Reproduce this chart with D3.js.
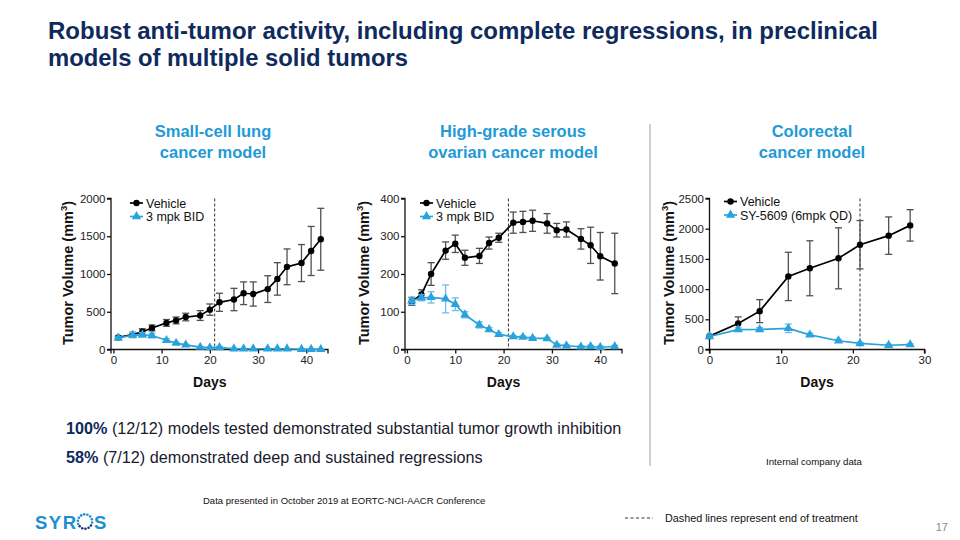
<!DOCTYPE html>
<html>
<head>
<meta charset="utf-8">
<script src="https://cdn.jsdelivr.net/npm/d3@7"></script>
<style>
  html, body { margin: 0; padding: 0; background: #fff; }
  svg { display: block; font-family: "Liberation Sans", Arial, sans-serif; }
</style>
</head>
<body>
<svg id="slide" width="960" height="540"></svg>
<script>
// ---------------- DATA ----------------
const titleLines = ["Robust anti-tumor activity, including complete regressions, in preclinical", "models of multiple solid tumors"];
const chartTitles = [["Small-cell lung", "cancer model"], ["High-grade serous", "ovarian cancer model"], ["Colorectal", "cancer model"]];
const seriesNames = [["Vehicle", "3 mpk BID"], ["Vehicle", "3 mpk BID"], ["Vehicle", "SY-5609 (6mpk QD)"]];

// Small-cell lung cancer model
const sclcDays = [1, 4, 6, 8, 11, 13, 15, 18, 20, 22, 25, 27, 29, 32, 34, 36, 39, 41, 43];
const sclcVehicle = [160, 197, 235, 285, 352, 385, 430, 450, 528, 625, 662, 745, 735, 800, 935, 1095, 1145, 1305, 1460];
const sclcVehicleErr = [15, 30, 40, 40, 45, 45, 50, 65, 75, 120, 148, 150, 160, 177, 215, 237, 245, 325, 410];
const sclcTreated = [152, 190, 195, 185, 122, 84, 62, 32, 26, 27, 10, 10, 10, 10, 10, 10, 3, 3, 2];
const sclcTreatedErr = [15, 35, 30, 28, 20, 10, 8, 6, 5, 15, 3, 3, 3, 3, 3, 3, 2, 2, 2];
const sclcYTicks = [0, 500, 1000, 1500, 2000];
const sclcXTicks = [0, 10, 20, 30, 40];

// High-grade serous ovarian cancer model
const hgscDays = [1, 3, 5, 8, 10, 12, 15, 17, 19, 22, 24, 26, 29, 31, 33, 36, 38, 40, 43];
const hgscVehicle = [127, 146, 200, 262, 280, 243, 248, 282, 296, 336, 338, 341, 334, 316, 318, 293, 276, 247, 228];
const hgscVehicleErr = [10, 12, 30, 23, 23, 20, 20, 16, 12, 28, 28, 28, 26, 18, 20, 27, 48, 63, 80];
const hgscTreated = [129, 137, 138, 134, 120, 92, 65, 53, 40, 34, 33, 30, 29, 12, 10, 7, 8, 6, 8];
const hgscTreatedErr = [10, 8, 15, 37, 17, 8, 8, 5, 4, 3, 3, 3, 3, 3, 3, 3, 3, 3, 3];
const hgscYTicks = [0, 100, 200, 300, 400];
const hgscXTicks = [0, 10, 20, 30, 40];

// Colorectal cancer model
const crcDays = [0, 4, 7, 11, 14, 18, 21, 25, 28];
const crcVehicle = [221, 430, 635, 1210, 1345, 1510, 1735, 1885, 2055];
const crcVehicleErr = [20, 110, 190, 400, 455, 505, 400, 310, 260];
const crcTreated = [215, 330, 332, 350, 243, 145, 100, 70, 80];
const crcTreatedErr = [25, 30, 30, 70, 25, 25, 20, 15, 15];
const crcYTicks = [0, 500, 1000, 1500, 2000, 2500];
const crcXTicks = [0, 10, 20, 30];

const endOfTreatmentDays = [21, 21, 21];

// ---------------- STYLE ----------------
const NAVY = "#0f2a5c";
const BLUE = "#1f9ad6";
const TREAT = "#2aa3dc";
const TREAT_ERR = "#6cc0e8";
const VEH_ERR = "#505050";

const svg = d3.select("#slide");

// Title
const title = svg.append("g");
titleLines.forEach((t, i) => {
  const tx = title.append("text")
    .attr("x", 48).attr("y", 39 + i * 27)
    .attr("fill", NAVY).attr("font-weight", "bold").attr("font-size", 24)
    .text(t);
  const target = i === 0 ? 830 : 360;
  const len = tx.node().getComputedTextLength();
  if (len > target) tx.attr("textLength", target).attr("lengthAdjust", "spacingAndGlyphs");
});

// Chart definitions (layout kept here)
const charts = [
  { cx: 213, days: sclcDays, veh: sclcVehicle, vehErr: sclcVehicleErr, trt: sclcTreated, trtErr: sclcTreatedErr,
    yMax: 2000, yTicks: sclcYTicks, xTicks: sclcXTicks, xDomain: [-0.5, 44.5], xRange: [111, 328],
    yTitleX: 73, legendX: 130 },
  { cx: 513, days: hgscDays, veh: hgscVehicle, vehErr: hgscVehicleErr, trt: hgscTreated, trtErr: hgscTreatedErr,
    yMax: 400, yTicks: hgscYTicks, xTicks: hgscXTicks, xDomain: [-0.4, 44.5], xRange: [405, 622],
    yTitleX: 369, legendX: 420 },
  { cx: 812, days: crcDays, veh: crcVehicle, vehErr: crcVehicleErr, trt: crcTreated, trtErr: crcTreatedErr,
    yMax: 2500, yTicks: crcYTicks, xTicks: crcXTicks, xDomain: [0, 30], xRange: [709.5, 924.5],
    yTitleX: 674, legendX: 724 }
];

const yBottom = 349.5, yTop = 198.5;

charts.forEach((c, ci) => {
  // chart heading
  chartTitles[ci].forEach((t, li) => {
    svg.append("text").attr("x", c.cx).attr("y", 137 + li * 21)
      .attr("text-anchor", "middle").attr("fill", BLUE)
      .attr("font-weight", "bold").attr("font-size", 16.5).text(t);
  });

  const x = d3.scaleLinear().domain(c.xDomain).range(c.xRange);
  const y = d3.scaleLinear().domain([0, c.yMax]).range([yBottom, yTop]);
  const g = svg.append("g");

  // axes
  const yAxis = d3.axisLeft(y).tickValues(c.yTicks).tickSize(4).tickPadding(1.5).tickFormat(d3.format("d"));
  const xAxis = d3.axisBottom(x).tickValues(c.xTicks).tickSize(4).tickPadding(2).tickFormat(d3.format("d"));
  const ya = g.append("g").attr("transform", `translate(${c.xRange[0]},0)`).call(yAxis);
  const xa = g.append("g").attr("transform", `translate(0,${yBottom})`).call(xAxis);
  [ya, xa].forEach(a => {
    a.select(".domain").attr("stroke", "#111").attr("stroke-width", 1.3);
    a.selectAll(".tick line").attr("stroke", "#111").attr("stroke-width", 1.3);
    a.selectAll(".tick text").attr("fill", "#222").attr("font-size", 11.5)
      .attr("font-family", "Liberation Sans, Arial, sans-serif");
  });
  ya.select(".domain").attr("d", `M-4,${yTop}H0V${yBottom}H-4`);
  xa.select(".domain").attr("d", `M${c.xRange[0]},4V0H${c.xRange[1]}V4`);

  // axis titles
  const yt = g.append("text")
    .attr("transform", `translate(${c.yTitleX},${(yTop + yBottom) / 2 - 1}) rotate(-90)`)
    .attr("text-anchor", "middle").attr("fill", "#111")
    .attr("font-weight", "bold").attr("font-size", 14.5);
  yt.append("tspan").text("Tumor Volume (mm");
  yt.append("tspan").attr("font-size", 9.5).attr("dy", -6).text("3");
  yt.append("tspan").attr("dy", 6).text(")");

  g.append("text").attr("x", (x(c.xTicks[0]) + x(c.xTicks[c.xTicks.length - 1])) / 2)
    .attr("y", 387).attr("text-anchor", "middle").attr("fill", "#111")
    .attr("font-weight", "bold").attr("font-size", 14).text("Days");

  // end of treatment dashed line
  const eot = endOfTreatmentDays[ci];
  g.append("line").attr("x1", x(eot)).attr("x2", x(eot)).attr("y1", yTop).attr("y2", yBottom)
    .attr("stroke", "#333").attr("stroke-width", 1).attr("stroke-dasharray", "3,2");

  const series = [
    { vals: c.veh, errs: c.vehErr, color: "#000", err: VEH_ERR, marker: "circle" },
    { vals: c.trt, errs: c.trtErr, color: TREAT, err: TREAT_ERR, marker: "triangle" }
  ];

  series.forEach(s => {
    const idx = d3.range(c.days.length);
    // error bars
    const eb = g.append("g").attr("stroke", s.err).attr("stroke-width", 1.3);
    idx.forEach(i => {
      const xi = x(c.days[i]);
      const hi = y(s.vals[i] + s.errs[i]);
      const lo = y(Math.max(0, s.vals[i] - s.errs[i]));
      eb.append("line").attr("x1", xi).attr("x2", xi).attr("y1", hi).attr("y2", lo);
      eb.append("line").attr("x1", xi - 3.5).attr("x2", xi + 3.5).attr("y1", hi).attr("y2", hi);
      eb.append("line").attr("x1", xi - 3.5).attr("x2", xi + 3.5).attr("y1", lo).attr("y2", lo);
    });
    // line
    const line = d3.line().x(i => x(c.days[i])).y(i => y(s.vals[i]));
    g.append("path").attr("d", line(idx)).attr("fill", "none")
      .attr("stroke", s.color).attr("stroke-width", 1.7);
    // markers
    idx.forEach(i => {
      if (s.marker === "circle") {
        g.append("circle").attr("cx", x(c.days[i])).attr("cy", y(s.vals[i])).attr("r", 3.2).attr("fill", s.color);
      } else {
        g.append("path").attr("d", d3.symbol().type(d3.symbolTriangle).size(38)())
          .attr("transform", `translate(${x(c.days[i])},${y(s.vals[i])})`).attr("fill", s.color);
      }
    });
  });

  // legend
  const lg = g.append("g");
  seriesNames[ci].forEach((nm, li) => {
    const ly = 203 + li * 13.5 - (ci === 2 ? 1.5 : 0);
    const col = li === 0 ? "#000" : TREAT;
    lg.append("line").attr("x1", c.legendX).attr("x2", c.legendX + 13).attr("y1", ly).attr("y2", ly)
      .attr("stroke", col).attr("stroke-width", 1.7);
    if (li === 0) {
      lg.append("circle").attr("cx", c.legendX + 6.5).attr("cy", ly).attr("r", 3.2).attr("fill", col);
    } else {
      lg.append("path").attr("d", d3.symbol().type(d3.symbolTriangle).size(38)())
        .attr("transform", `translate(${c.legendX + 6.5},${ly})`).attr("fill", col);
    }
    lg.append("text").attr("x", c.legendX + 16).attr("y", ly + 4.5)
      .attr("fill", "#111").attr("font-size", 12.5).text(nm);
  });
});

// separator
svg.append("line").attr("x1", 650).attr("x2", 650).attr("y1", 124).attr("y2", 466)
  .attr("stroke", "#d0d0d0").attr("stroke-width", 2);

// bullet statements
const b1 = svg.append("text").attr("x", 66).attr("y", 434).attr("font-size", 16.2).attr("fill", "#1a1a2e");
b1.append("tspan").attr("font-weight", "bold").attr("fill", NAVY).text("100%");
b1.append("tspan").text(" (12/12) models tested demonstrated substantial tumor growth inhibition");
const b2 = svg.append("text").attr("x", 66).attr("y", 463).attr("font-size", 16.2).attr("fill", "#1a1a2e");
b2.append("tspan").attr("font-weight", "bold").attr("fill", NAVY).text("58%");
b2.append("tspan").text(" (7/12) demonstrated deep and sustained regressions");

svg.append("text").attr("x", 766).attr("y", 465).attr("font-size", 9.7).attr("fill", "#111").text("Internal company data");
svg.append("text").attr("x", 203).attr("y", 504).attr("font-size", 9.5).attr("fill", "#111")
  .text("Data presented in October 2019 at EORTC-NCI-AACR Conference");

// dashed-line note
svg.append("line").attr("x1", 625).attr("x2", 653).attr("y1", 518).attr("y2", 518)
  .attr("stroke", "#333").attr("stroke-width", 1).attr("stroke-dasharray", "3,2.5");
svg.append("text").attr("x", 665).attr("y", 522).attr("font-size", 10.8).attr("fill", "#111")
  .text("Dashed lines represent end of treatment");

svg.append("text").attr("x", 948).attr("y", 531).attr("text-anchor", "end").attr("font-size", 11).attr("fill", "#888").text("17");

// logo
const logo = svg.append("g");
logo.append("text").attr("x", 35).attr("y", 529).attr("font-size", 18.5).attr("font-weight", "bold")
  .attr("fill", "#1d8fd0").attr("letter-spacing", 1.5).text("SYR");
logo.append("text").attr("x", 94).attr("y", 529).attr("font-size", 18.5).attr("font-weight", "bold")
  .attr("fill", "#1d8fd0").text("S");
const dotAngles = d3.range(-200, 160, 26);
dotAngles.forEach((a, i) => {
  const r = 7.2, cx = 85, cy = 521.5;
  const rad = a * Math.PI / 180;
  logo.append("circle").attr("cx", cx + r * Math.cos(rad)).attr("cy", cy + r * Math.sin(rad))
    .attr("r", 1.3).attr("fill", (a > 20 && a < 150) ? "#123a7a" : "#1d8fd0");
});
</script>
</body>
</html>
